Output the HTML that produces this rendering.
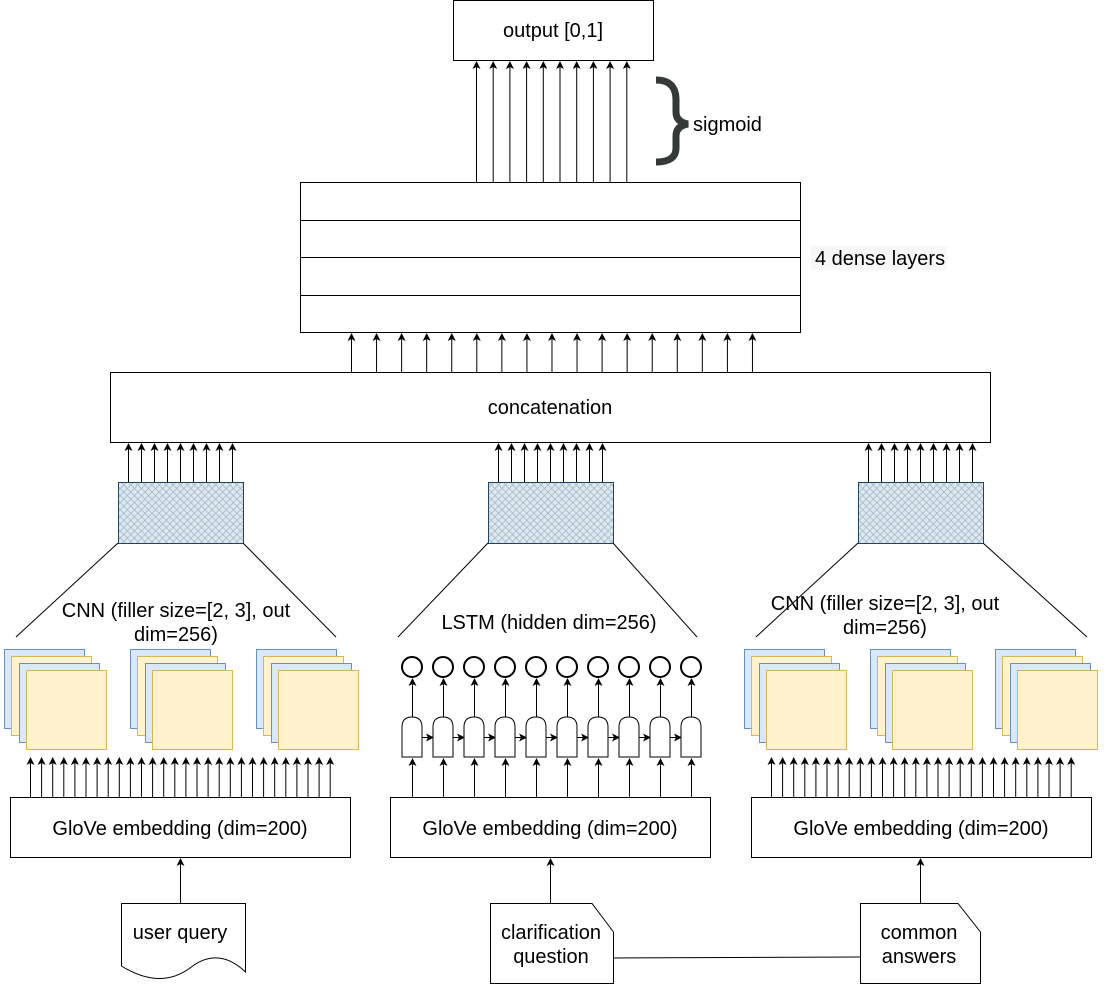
<!DOCTYPE html>
<html><head><meta charset="utf-8"><style>
html,body{margin:0;padding:0;background:#fff;}
svg{display:block;font-family:"Liberation Sans",Helvetica,Arial,sans-serif;}
</style></head><body>
<svg id="s" width="1113" height="984" viewBox="0 0 1113 984" xmlns="http://www.w3.org/2000/svg">
<defs>
<pattern id="hatch" width="5" height="5" patternUnits="userSpaceOnUse" patternTransform="rotate(45)">
<rect width="5" height="5" fill="#dfe8ef"/>
<line x1="0" y1="0" x2="0" y2="5" stroke="#9fb4c4" stroke-width="1.5"/>
<line x1="0" y1="0" x2="5" y2="0" stroke="#9fb4c4" stroke-width="1.5"/>
</pattern>
<marker id="ah" markerWidth="8" markerHeight="8" refX="7" refY="4" orient="auto" markerUnits="userSpaceOnUse" viewBox="0 0 8 8">
<path d="M0,0 L8,4 L0,8 L2,4 Z" fill="#000"/>
</marker>
</defs>
<g id="arrows" stroke="#000" stroke-width="1" fill="none"></g>

<!-- output -->
<rect x="453.5" y="0.5" width="200" height="60" fill="#fff" stroke="#000"/>
<text x="553" y="37" font-size="20" text-anchor="middle">output [0,1]</text>
<path d="M656,80 Q676,80 676,100 L676,112 Q676,122 688,124 Q676,126 676,136 L676,148 Q676,162 656,162" fill="none" stroke="#333a38" stroke-width="7"/>
<text x="693" y="131" font-size="20">sigmoid</text>

<!-- dense -->
<rect x="300.5" y="182.5" width="500" height="150" fill="#fff" stroke="#000"/>
<line x1="300" y1="220.5" x2="801" y2="220.5" stroke="#000"/>
<line x1="300" y1="257.5" x2="801" y2="257.5" stroke="#000"/>
<line x1="300" y1="295.5" x2="801" y2="295.5" stroke="#000"/>
<rect x="811" y="246" width="136" height="24" fill="#f7f7f7"/>
<text x="815" y="265" font-size="20">4 dense layers</text>

<!-- concat -->
<rect x="110.5" y="372.5" width="880" height="70" fill="#fff" stroke="#000"/>
<text x="550" y="414" font-size="20" text-anchor="middle">concatenation</text>

<!-- hatched -->
<rect x="118.5" y="482.5" width="125" height="61" fill="url(#hatch)" stroke="#23445d"/>
<rect x="488.5" y="482.5" width="125" height="61" fill="url(#hatch)" stroke="#23445d"/>
<rect x="858.5" y="482.5" width="125" height="61" fill="url(#hatch)" stroke="#23445d"/>
<g stroke="#000" stroke-width="1">
<line x1="118" y1="543" x2="16" y2="637"/><line x1="243" y1="543" x2="336" y2="637"/>
<line x1="488" y1="543" x2="398" y2="637"/><line x1="613" y1="543" x2="697" y2="637"/>
<line x1="858" y1="543" x2="756" y2="637"/><line x1="983" y1="543" x2="1087" y2="637"/>
</g>
<text x="176" y="617" font-size="20" text-anchor="middle">CNN (filler size=[2, 3], out</text>
<text x="176" y="641" font-size="20" text-anchor="middle">dim=256)</text>
<text x="549" y="629" font-size="20" text-anchor="middle">LSTM (hidden dim=256)</text>
<text x="885" y="610" font-size="20" text-anchor="middle">CNN (filler size=[2, 3], out</text>
<text x="885" y="634" font-size="20" text-anchor="middle">dim=256)</text>

<g id="maps"></g>
<g id="lstm"></g>

<!-- glove -->
<rect x="10.5" y="797.5" width="340" height="60" fill="#fff" stroke="#000"/>
<text x="180" y="835" font-size="20" text-anchor="middle">GloVe embedding (dim=200)</text>
<rect x="390.5" y="797.5" width="320" height="60" fill="#fff" stroke="#000"/>
<text x="550" y="835" font-size="20" text-anchor="middle">GloVe embedding (dim=200)</text>
<rect x="751.5" y="797.5" width="340" height="60" fill="#fff" stroke="#000"/>
<text x="921" y="835" font-size="20" text-anchor="middle">GloVe embedding (dim=200)</text>

<!-- documents -->
<path d="M121.5,903.5 H245.5 V972 Q218,946 190,968 Q160,990 121.5,966 Z" fill="#fff" stroke="#000"/>
<text x="180" y="939" font-size="20" text-anchor="middle">user query</text>
<path d="M490.5,903.5 H592 L613.5,932 V983.5 H490.5 Z" fill="#fff" stroke="#000"/>
<text x="551" y="939" font-size="20" text-anchor="middle">clarification</text>
<text x="551" y="963" font-size="20" text-anchor="middle">question</text>
<path d="M860.5,903.5 H958 L980.5,932 V983.5 H860.5 Z" fill="#fff" stroke="#000"/>
<text x="919" y="939" font-size="20" text-anchor="middle">common</text>
<text x="919" y="963" font-size="20" text-anchor="middle">answers</text>
<line x1="614" y1="958" x2="860" y2="957" stroke="#000"/>
</svg>
<script>
var NS="http://www.w3.org/2000/svg";
var A=document.getElementById("arrows");
function ar(x,y1,y2){var l=document.createElementNS(NS,"line");l.setAttribute("x1",x);l.setAttribute("x2",x);l.setAttribute("y1",y1);l.setAttribute("y2",y2+1);l.setAttribute("marker-end","url(#ah)");A.appendChild(l);}
for(var i=0;i<10;i++)ar(476.5+i*16.7,182,61);
for(var i=0;i<17;i++)ar(351.5+i*25.06,372,333);
[128.5,498.5,868.5].forEach(function(b){for(var i=0;i<9;i++)ar(b+i*13,482,443);});
for(var i=0;i<28;i++)ar(30.5+i*11.1,797,757);
for(var i=0;i<28;i++)ar(771.5+i*11.1,797,757);
ar(180.5,903,858);ar(550.5,903,858);ar(920.5,903,858);
var M=document.getElementById("maps");
function rc(x,y,w,h,f,s){var r=document.createElementNS(NS,"rect");r.setAttribute("x",x+.5);r.setAttribute("y",y+.5);r.setAttribute("width",w);r.setAttribute("height",h);r.setAttribute("fill",f);r.setAttribute("stroke",s);M.appendChild(r);}
[4,130,256,744,870,995].forEach(function(b){
rc(b,649,80,79,"#dae8fc","#6c8ebf");rc(b+7,656,80,79,"#fff2cc","#d6b656");
rc(b+15,663,80,79,"#dae8fc","#6c8ebf");rc(b+22,670,80,79,"#fff2cc","#d6b656");});
var L=document.getElementById("lstm");
for(var i=0;i<10;i++){var cx=412+i*31;
var c=document.createElementNS(NS,"circle");c.setAttribute("cx",cx);c.setAttribute("cy",667);c.setAttribute("r",10);c.setAttribute("fill","#fff");c.setAttribute("stroke","#000");c.setAttribute("stroke-width","2");L.appendChild(c);
var p=document.createElementNS(NS,"path");p.setAttribute("d","M"+(cx-10)+",757 V727 Q"+(cx-10)+",717 "+cx+",717 Q"+(cx+10)+",717 "+(cx+10)+",727 V757 Z");p.setAttribute("fill","#fff");p.setAttribute("stroke","#000");L.appendChild(p);
ar(cx+.5,717,678);ar(cx+.5,797,758);
if(i<9){var l=document.createElementNS(NS,"line");l.setAttribute("x1",cx+10);l.setAttribute("x2",cx+21);l.setAttribute("y1",737.5);l.setAttribute("y2",737.5);l.setAttribute("stroke","#000");l.setAttribute("marker-end","url(#ah)");L.appendChild(l);}
}
</script>
</body></html>
